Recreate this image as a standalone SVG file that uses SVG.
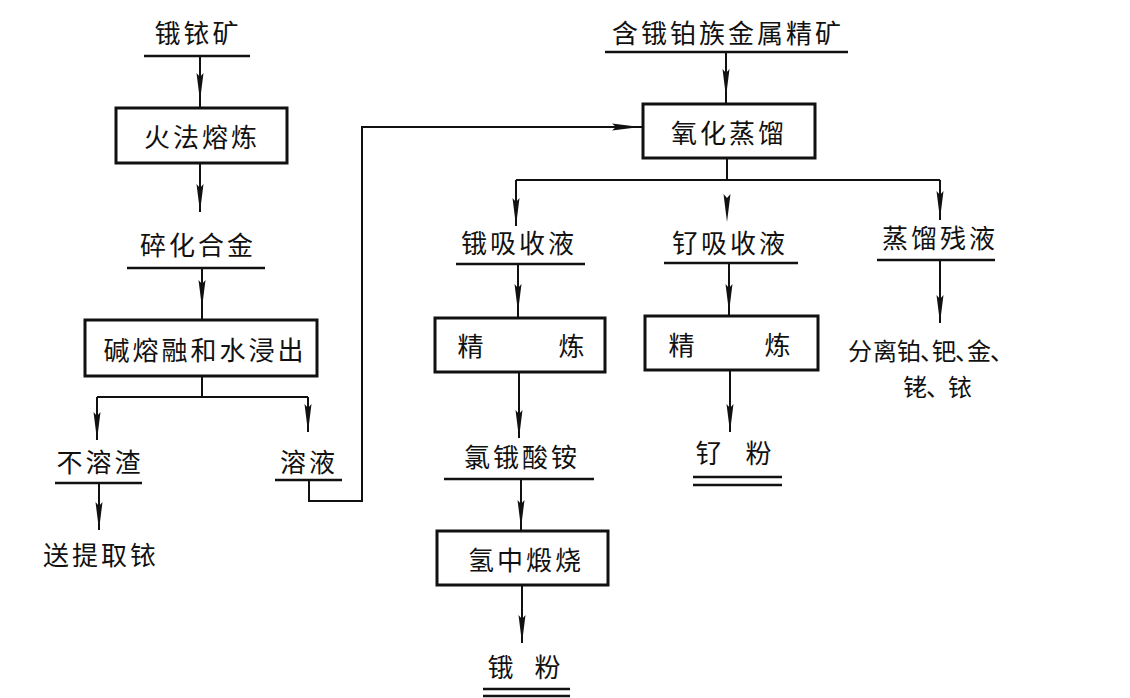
<svg xmlns="http://www.w3.org/2000/svg" xmlns:xlink="http://www.w3.org/1999/xlink" width="1130" height="698" viewBox="0 0 1130 698">
<style>
text{font-family:"Noto Sans CJK SC","Noto Sans CJK JP",sans-serif;font-size:26px;fill:#111;text-anchor:middle;letter-spacing:3px}
.sep{font-size:24px;text-anchor:start;letter-spacing:0}
.box{fill:none;stroke:#111;stroke-width:3}
.ul{stroke:#111;stroke-width:2.5;fill:none}
.ln{stroke:#111;stroke-width:2;fill:none}
.ah{fill:#111}
</style>
<defs>
<path id="ah" d="M0,0 L-3.5,-28 L0,-24 L3.5,-28 Z"/>
</defs>
<rect width="1130" height="698" fill="#fff"/>

<g id="connectors">
<path class="ln" d="M200,56 V108"/>
<use href="#ah" class="ah" x="200" y="101"/>
<path class="ln" d="M200,163 V212"/>
<use href="#ah" class="ah" x="200" y="212"/>
<path class="ln" d="M202,268 V320"/>
<use href="#ah" class="ah" x="202" y="308"/>
<path class="ln" d="M202,376 V397 M97,397 H308 M97,397 V440 M308,397 V432"/>
<use href="#ah" class="ah" x="97" y="440"/>
<use href="#ah" class="ah" x="308" y="432"/>
<path class="ln" d="M99,483 V530"/>
<use href="#ah" class="ah" x="99" y="530"/>
<path class="ln" d="M309,480 V501 H362 V127 H642"/>
<use href="#ah" class="ah" transform="translate(640,127) rotate(-90)"/>
<path class="ln" d="M726,52 V104"/>
<use href="#ah" class="ah" x="726" y="97"/>
<path class="ln" d="M727,158 V180 M516,180 H940 M516,180 V226 M940,180 V220"/>
<use href="#ah" class="ah" x="516" y="226"/>
<use href="#ah" class="ah" x="727" y="222"/>
<use href="#ah" class="ah" x="940" y="219"/>
<path class="ln" d="M518,264 V318"/>
<use href="#ah" class="ah" x="518" y="312"/>
<path class="ln" d="M519,372 V438"/>
<use href="#ah" class="ah" x="519" y="438"/>
<path class="ln" d="M521,479 V531"/>
<use href="#ah" class="ah" x="521" y="528"/>
<path class="ln" d="M522,585 V643"/>
<use href="#ah" class="ah" x="522" y="643"/>
<path class="ln" d="M729,263 V316"/>
<use href="#ah" class="ah" x="729" y="312"/>
<path class="ln" d="M730,370 V432"/>
<use href="#ah" class="ah" x="730" y="432"/>
<path class="ln" d="M940,260 V323"/>
<use href="#ah" class="ah" x="940" y="323"/>
</g>

<g id="n-ore">
<text x="198" y="43">锇铱矿</text>
<line class="ul" x1="144" y1="56" x2="250" y2="56"/>
</g>
<g id="n-smelt">
<rect class="box" x="116" y="108" width="171" height="55"/>
<text x="202" y="147">火法熔炼</text>
</g>
<g id="n-alloy">
<text x="198" y="255">碎化合金</text>
<line class="ul" x1="127" y1="268" x2="265" y2="268"/>
</g>
<g id="n-leach">
<rect class="box" x="85" y="320" width="232" height="56"/>
<text x="205" y="360">碱熔融和水浸出</text>
</g>
<g id="n-residue">
<text x="100" y="472">不溶渣</text>
<line class="ul" x1="55" y1="483" x2="142" y2="483"/>
</g>
<g id="n-solution">
<text x="309" y="472">溶液</text>
<line class="ul" x1="275" y1="480" x2="342" y2="480"/>
</g>
<g id="n-ir">
<text x="101" y="565">送提取铱</text>
</g>
<g id="n-pgm">
<text x="728" y="43">含锇铂族金属精矿</text>
<line class="ul" x1="605" y1="52" x2="848" y2="52"/>
</g>
<g id="n-distill">
<rect class="box" x="643" y="104" width="172" height="54"/>
<text x="729" y="143">氧化蒸馏</text>
</g>
<g id="n-os-abs">
<text x="519" y="253">锇吸收液</text>
<line class="ul" x1="456" y1="264" x2="585" y2="264"/>
</g>
<g id="n-ru-abs">
<text x="730" y="253">钌吸收液</text>
<line class="ul" x1="664" y1="263" x2="798" y2="263"/>
</g>
<g id="n-residue-liq">
<text x="940" y="248">蒸馏残液</text>
<line class="ul" x1="877" y1="260" x2="995" y2="260"/>
</g>
<g id="n-os-refine">
<rect class="box" x="435" y="318" width="170" height="54"/>
<text x="472" y="356">精</text>
<text x="573" y="356">炼</text>
</g>
<g id="n-ru-refine">
<rect class="box" x="645" y="316" width="173" height="54"/>
<text x="683" y="355">精</text>
<text x="779" y="355">炼</text>
</g>
<g id="n-separate">
<text class="sep"><tspan x="848 873 897 920 932 955 967 990" y="360">分离铂、钯、金、</tspan><tspan x="903 926 948" y="396">铑、铱</tspan></text>
</g>
<g id="n-salt">
<text x="522" y="467">氯锇酸铵</text>
<line class="ul" x1="444" y1="479" x2="594" y2="479"/>
</g>
<g id="n-calcine">
<rect class="box" x="437" y="531" width="171" height="54"/>
<text x="526" y="570">氢中煅烧</text>
</g>
<g id="n-os-powder">
<text x="502" y="677">锇</text>
<text x="549" y="677">粉</text>
<line class="ul" x1="483" y1="689" x2="570" y2="689"/>
<line class="ul" x1="483" y1="696" x2="570" y2="696"/>
</g>
<g id="n-ru-powder">
<text x="710" y="463">钌</text>
<text x="760" y="463">粉</text>
<line class="ul" x1="693" y1="477" x2="782" y2="477"/>
<line class="ul" x1="693" y1="485" x2="782" y2="485"/>
</g>
</svg>
